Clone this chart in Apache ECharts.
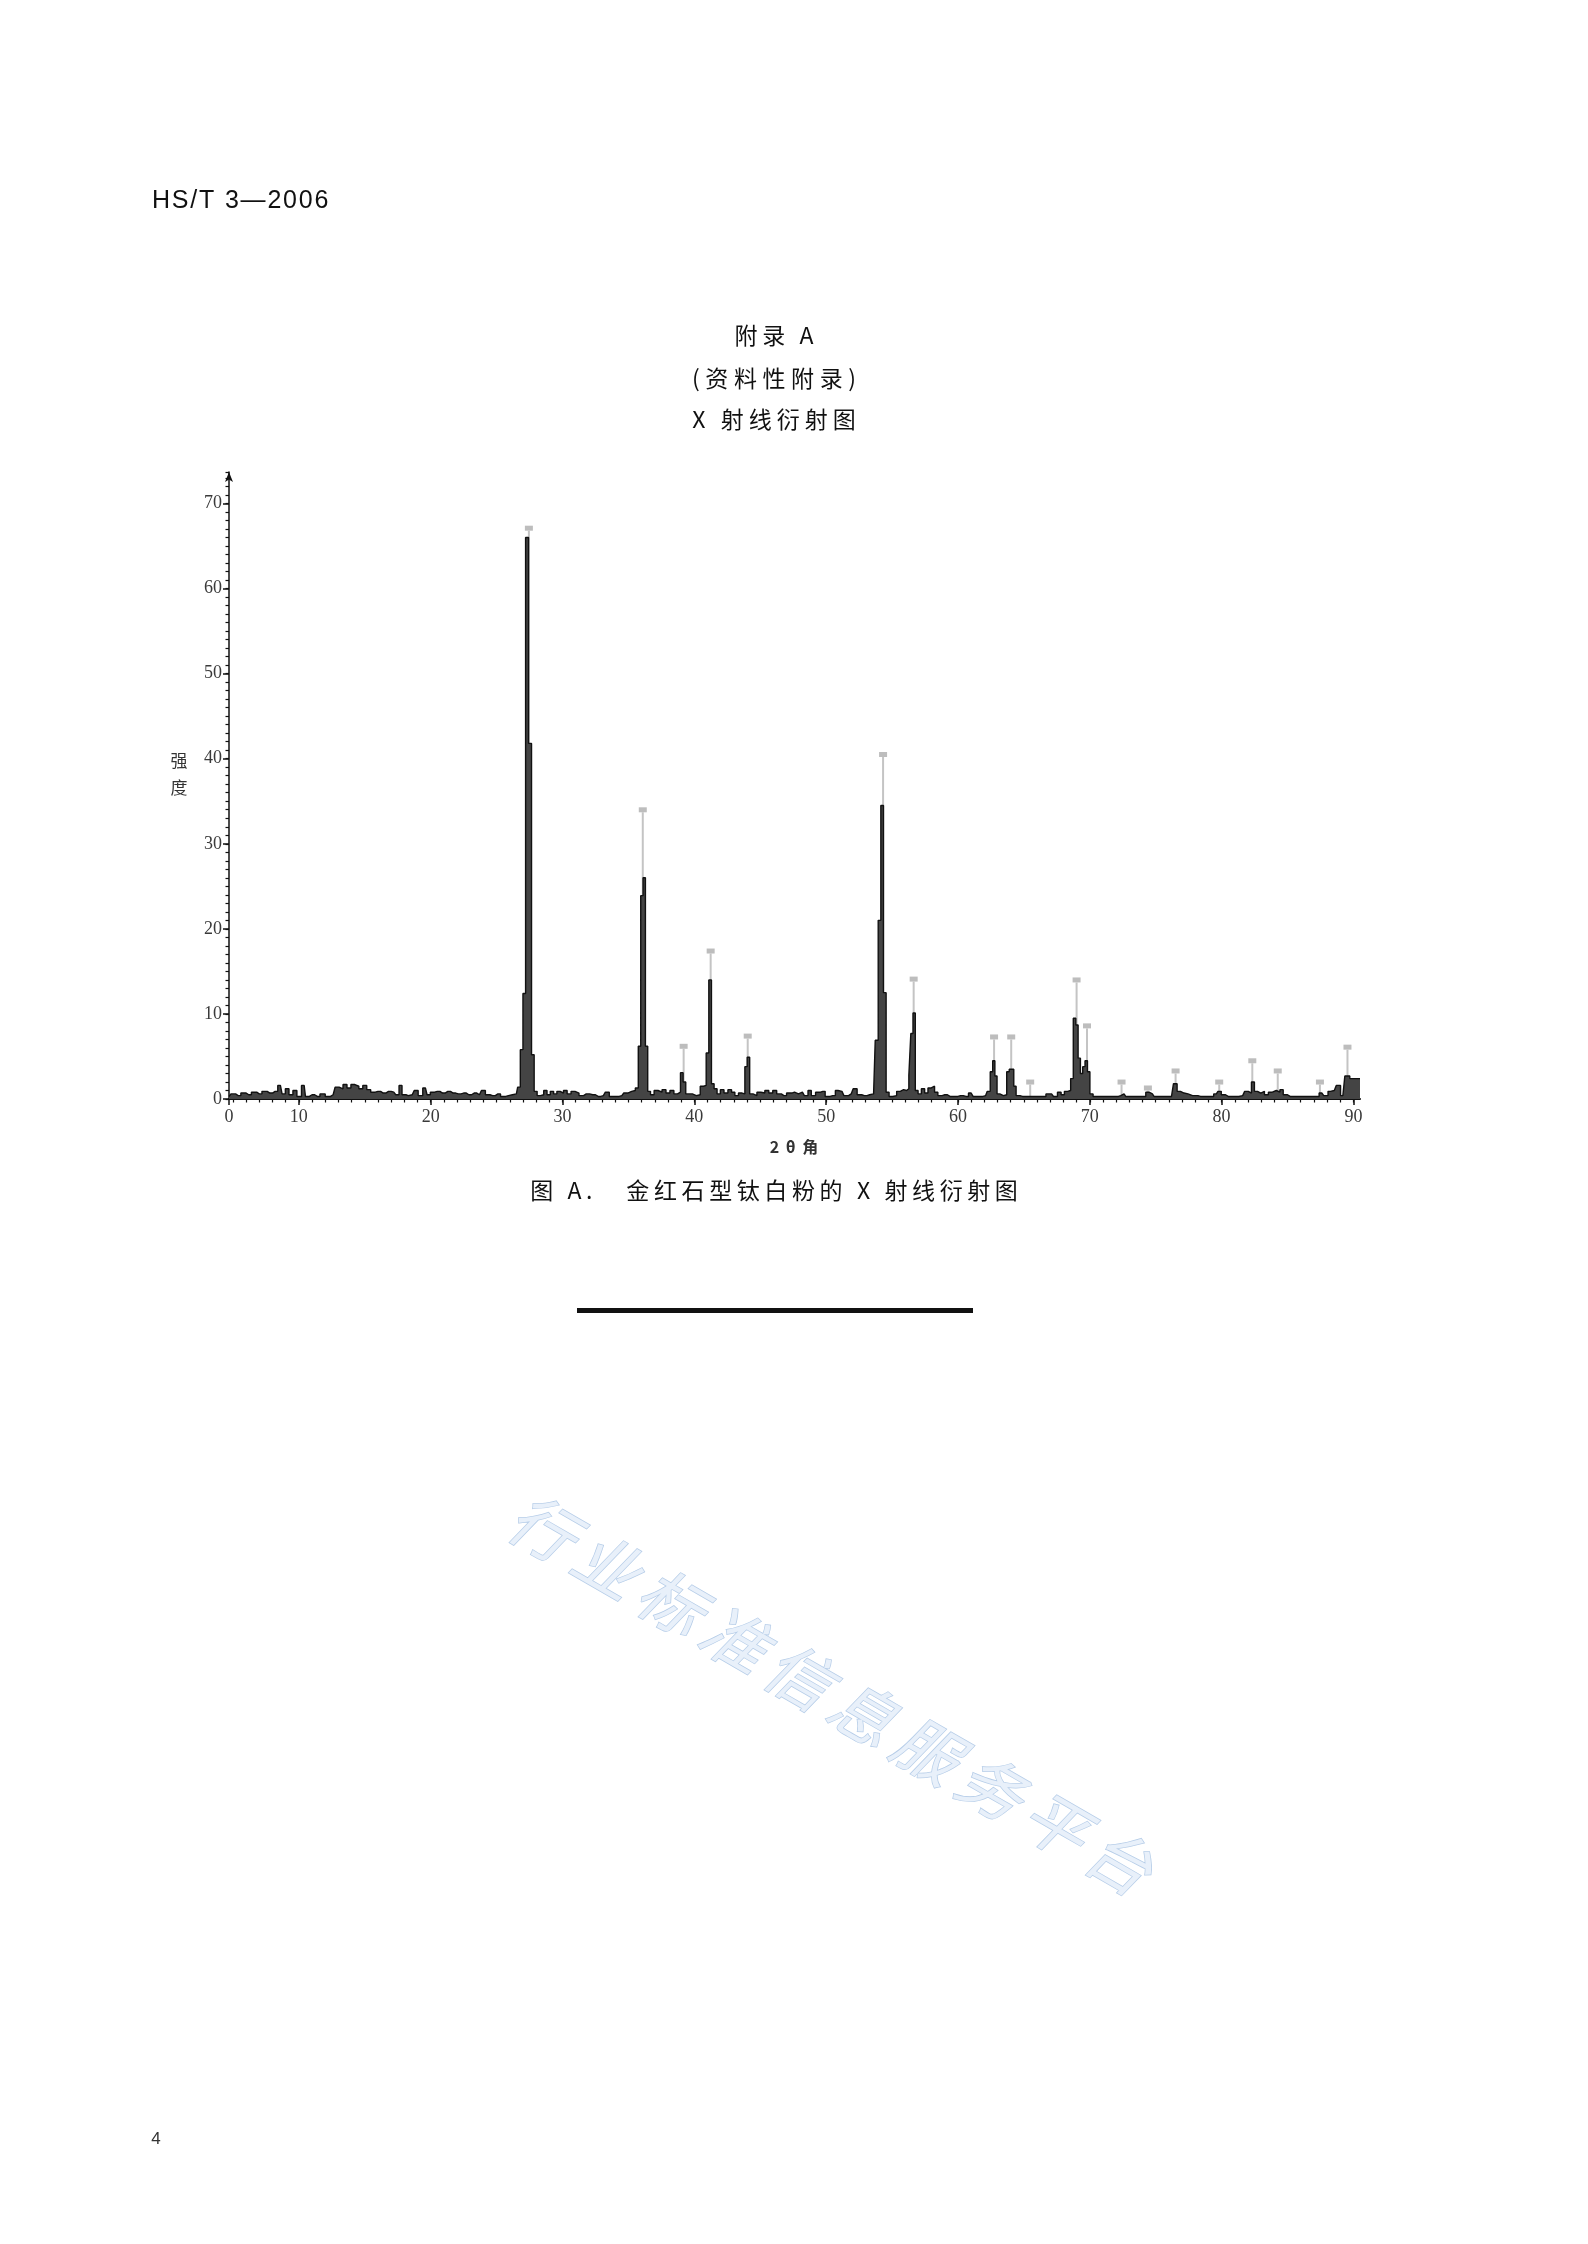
<!DOCTYPE html>
<html>
<head>
<meta charset="utf-8">
<script src="https://cdn.jsdelivr.net/npm/echarts/dist/echarts.min.js"></script>
<style>
  html, body { margin: 0; padding: 0; background: #ffffff; }
  #page { width: 1588px; height: 2244px; }
</style>
</head>
<body>
<div id="page"></div>
<script>
// ---------------- DATA ----------------
// measured diffraction pattern (2θ in degrees, intensity)
var twoTheta = [
  4.7, 5.0, 5.4, 5.8, 6.2, 6.6, 7.0, 7.4, 7.8, 8.2, 8.6, 8.85, 9.1, 9.4, 9.7, 10.0, 10.4, 10.6, 11.0, 11.4,
  11.8, 12.2, 12.6, 12.9, 13.2, 13.5, 13.8, 14.1, 14.4, 14.7, 15.0, 15.3, 15.6, 16.0, 16.4, 16.8, 17.2, 17.5, 17.7, 17.95,
  18.3, 18.6, 18.9, 19.2, 19.6, 19.85, 20.1, 20.5, 20.9, 21.3, 21.7, 22.1, 22.5, 22.9, 23.3, 23.7, 24.0, 24.3, 24.7, 25.1,
  25.5, 25.9, 26.2, 26.5, 26.7, 26.9, 27.1, 27.3, 27.55, 27.75, 27.95, 28.2, 28.45, 28.7, 28.95, 29.2, 29.45, 29.7, 29.95, 30.2,
  30.5, 30.8, 31.1, 31.4, 31.8, 32.3, 32.7, 33.1, 33.4, 33.7, 34.1, 34.5, 34.8, 35.1, 35.4, 35.65, 35.85, 36.02, 36.2, 36.38,
  36.55, 36.8, 37.1, 37.4, 37.7, 38.0, 38.3, 38.6, 38.85, 39.05, 39.25, 39.45, 39.7, 40.0, 40.3, 40.6, 40.8, 41.0, 41.2, 41.4,
  41.6, 41.85, 42.1, 42.4, 42.7, 42.95, 43.2, 43.5, 43.75, 43.92, 44.1, 44.3, 44.6, 44.9, 45.2, 45.5, 45.8, 46.1, 46.4, 46.8,
  47.2, 47.6, 47.9, 48.2, 48.5, 48.75, 49.0, 49.4, 49.75, 50.1, 50.5, 50.9, 51.2, 51.5, 51.9, 52.2, 52.5, 52.9, 53.3, 53.6,
  53.85, 54.05, 54.25, 54.45, 54.65, 54.9, 55.2, 55.5, 55.75, 56.0, 56.2, 56.35, 56.5, 56.68, 56.85, 57.1, 57.35, 57.6, 57.85, 58.1,
  58.35, 58.6, 59.0, 59.4, 59.8, 60.2, 60.6, 61.0, 61.3, 61.7, 62.1, 62.35, 62.55, 62.72, 62.88, 63.05, 63.3, 63.6, 63.8, 63.98,
  64.15, 64.32, 64.5, 64.9, 65.3, 65.7, 66.1, 66.5, 66.85, 67.1, 67.4, 67.7, 67.95, 68.2, 68.45, 68.65, 68.85, 69.03, 69.2, 69.38,
  69.55, 69.73, 69.92, 70.1, 70.4, 70.8, 71.2, 71.6, 72.0, 72.35, 72.6, 72.85, 73.2, 73.6, 74.0, 74.5, 74.75, 75.0, 75.4, 75.8,
  76.2, 76.5, 76.75, 77.0, 77.3, 77.6, 78.0, 78.4, 78.8, 79.2, 79.6, 79.85, 80.1, 80.5, 80.9, 81.3, 81.6, 81.9, 82.15, 82.38,
  82.6, 82.85, 83.1, 83.4, 83.7, 84.0, 84.3, 84.55, 84.8, 85.2, 85.6, 86.0, 86.4, 86.8, 87.2, 87.6, 87.9, 88.25, 88.55, 88.85,
  89.2, 89.5, 89.95, 90.5
];
var intensity = [
  0.3, 0.6, 0.4, 0.7, 0.5, 0.8, 0.6, 0.9, 0.7, 0.9, 1.6, 0.6, 1.2, 0.5, 1.0, 0.3, 1.6, 0.3, 0.5, 0.3,
  0.6, 0.3, 0.5, 1.4, 1.2, 1.7, 1.3, 1.7, 1.5, 1.2, 1.6, 1.1, 0.8, 0.9, 0.7, 0.9, 0.8, 0.5, 1.6, 0.5,
  0.4, 0.5, 1.0, 0.4, 1.3, 0.5, 0.8, 0.9, 0.7, 0.9, 0.7, 0.6, 0.7, 0.5, 0.7, 0.5, 1.0, 0.5, 0.4, 0.6,
  0.3, 0.4, 0.5, 0.6, 1.4, 5.8, 12.4, 66.0, 41.8, 5.2, 0.9, 0.4, 0.5, 1.0, 0.5, 0.9, 0.6, 0.9, 0.7, 1.0,
  0.6, 0.9, 0.7, 0.4, 0.6, 0.5, 0.3, 0.4, 0.8, 0.3, 0.3, 0.4, 0.7, 0.9, 1.0, 1.3, 6.2, 23.9, 26.0, 6.2,
  0.9, 0.5, 1.0, 0.8, 1.1, 0.7, 1.0, 0.6, 0.8, 3.1, 2.0, 0.6, 0.6, 0.4, 0.5, 1.5, 1.6, 5.4, 14.0, 1.8,
  1.2, 0.6, 1.1, 0.7, 1.1, 0.8, 0.4, 0.7, 0.6, 3.8, 4.9, 0.6, 0.4, 0.8, 0.7, 1.0, 0.7, 1.0, 0.6, 0.4,
  0.7, 0.8, 0.6, 0.8, 0.4, 1.0, 0.4, 0.8, 0.9, 0.3, 0.4, 1.0, 0.9, 0.4, 0.6, 1.2, 0.5, 0.4, 0.5, 0.6,
  6.9, 21.0, 34.5, 12.5, 0.8, 0.3, 0.4, 0.9, 1.1, 1.0, 1.2, 2.8, 7.7, 10.1, 1.0, 0.6, 1.2, 0.7, 1.3, 1.5,
  0.8, 0.4, 0.5, 0.3, 0.3, 0.4, 0.3, 0.7, 0.3, 0.3, 0.4, 0.9, 3.2, 4.5, 2.7, 0.6, 0.4, 0.5, 3.2, 3.5,
  3.5, 1.5, 0.4, 0.3, 0.3, 0.3, 0.3, 0.3, 0.6, 0.6, 0.3, 0.8, 0.5, 0.9, 1.0, 2.4, 9.5, 8.7, 4.8, 3.0,
  3.8, 4.5, 3.2, 0.6, 0.3, 0.3, 0.3, 0.3, 0.3, 0.4, 0.6, 0.3, 0.3, 0.3, 0.3, 0.8, 0.6, 0.3, 0.3, 0.3,
  0.3, 1.8, 0.9, 0.7, 0.6, 0.4, 0.4, 0.3, 0.3, 0.3, 0.6, 0.9, 0.5, 0.3, 0.3, 0.3, 0.4, 0.9, 0.7, 2.0,
  0.9, 0.7, 0.9, 0.5, 0.8, 1.0, 0.8, 1.1, 0.5, 0.3, 0.3, 0.3, 0.3, 0.3, 0.3, 0.7, 0.4, 0.9, 1.0, 1.6,
  0.4, 2.7, 2.4, 2.4
];
// reference (rutile) lines: positions and relative heights
var refAngle = [27.45, 36.09, 39.19, 41.24, 44.05, 54.32, 56.64, 62.74, 64.04, 65.48,
                69.0, 69.79, 72.41, 74.41, 76.51, 79.82, 82.33, 84.26, 87.46, 89.55];
var refIntensity = [66.8, 33.7, 5.9, 17.1, 7.1, 40.2, 13.8, 7.0, 7.0, 1.7,
                    13.7, 8.3, 1.7, 1.0, 3.0, 1.7, 4.2, 3.0, 1.7, 5.8];
// axis ticks / labels
var xLabelValues = [4.7, 10, 20, 30, 40, 50, 60, 70, 80, 90];
var xLabelTexts  = ['0', '10', '20', '30', '40', '50', '60', '70', '80', '90'];
var yLabelValues = [0, 10, 20, 30, 40, 50, 60, 70];
var xMin = 4.7, xMax = 90.5, yMin = 0, yMax = 73.7;

// ---------------- BUILD ----------------
var patternData = twoTheta.map(function (t, i) { return [t, intensity[i]]; });
var refData = refAngle.map(function (t, i) { return [t, refIntensity[i]]; });
var xMinorTicks = [];
for (var k = 5; k <= 90; k++) xMinorTicks.push(k);

var chart = echarts.init(document.getElementById('page'), null, { width: 1588, height: 2244, renderer: 'canvas' });

var CJK = "'Noto Sans CJK SC', 'Noto Sans', sans-serif";
var SANS = "'Liberation Sans', Arial, sans-serif";
var SERIF = "'Liberation Serif', 'DejaVu Serif', serif";

var measureCtx = document.createElement('canvas').getContext('2d');
// text laid out character by character with extra letter spacing
function spacedText(str, x, cy, size, family, weight, spacing, fill, anchor) {
  measureCtx.font = weight + ' ' + size + 'px ' + family;
  var chars = Array.from(str);
  var widths = chars.map(function (c) { return measureCtx.measureText(c).width; });
  var total = widths.reduce(function (a, b) { return a + b; }, 0) + spacing * (chars.length - 1);
  var cx = anchor === 'left' ? x : x - total / 2;
  var children = [];
  chars.forEach(function (c, i) {
    if (c !== ' ') {
      children.push({
        type: 'text', x: cx, y: cy,
        style: { text: c, fontSize: size, fontFamily: family, fontWeight: weight, fill: fill, align: 'left', verticalAlign: 'middle' }
      });
    }
    cx += widths[i] + spacing;
  });
  return { type: 'group', silent: true, children: children };
}

function wmChars() {
  var s = '行业标准信息服务平台';
  var out = [];
  var pitch = 74;
  for (var i = 0; i < s.length; i++) {
    out.push({
      type: 'text',
      x: (i - (s.length - 1) / 2) * pitch,
      y: 0,
      style: {
        text: s.charAt(i), fontSize: 64, fontFamily: CJK, fontStyle: 'italic',
        fill: '#e8f0fa', stroke: '#b6cde8', lineWidth: 1.5,
        align: 'center', verticalAlign: 'middle'
      }
    });
  }
  return out;
}

var option = {
  backgroundColor: '#ffffff',
  animation: false,
  grid: { left: 229, right: 228, top: 472, bottom: 1145, containLabel: false, outerBoundsMode: 'none' },
  xAxis: [
    {
      type: 'value', min: xMin, max: xMax, position: 'bottom',
      axisLine: { show: true, onZero: false, lineStyle: { color: '#111', width: 2 } },
      axisTick: { show: true, customValues: xLabelValues, length: 6, lineStyle: { color: '#111', width: 1.5 } },
      axisLabel: {
        show: true, customValues: xLabelValues, margin: 9,
        fontFamily: SERIF, fontSize: 18, color: '#3a3a3a',
        formatter: function (v) { var i = xLabelValues.indexOf(v); return i >= 0 ? xLabelTexts[i] : ''; }
      },
      splitLine: { show: false }
    },
    {
      type: 'value', min: xMin, max: xMax, position: 'bottom',
      axisLine: { show: false },
      axisTick: { show: true, customValues: xMinorTicks, length: 3.5, lineStyle: { color: '#111', width: 1.2 } },
      axisLabel: { show: false },
      splitLine: { show: false }
    }
  ],
  yAxis: [
    {
      type: 'value', min: yMin, max: yMax, position: 'left',
      axisLine: { show: true, onZero: false, symbol: ['none', 'arrow'], symbolSize: [6, 10], lineStyle: { color: '#111', width: 1.5 } },
      axisTick: { show: true, customValues: yLabelValues, length: 6, lineStyle: { color: '#111', width: 1.5 } },
      axisLabel: { show: true, customValues: yLabelValues, margin: 7, fontFamily: SERIF, fontSize: 18, color: '#3a3a3a' },
      splitLine: { show: false }
    },
    {
      type: 'value', min: yMin, max: yMax, position: 'left', interval: 1,
      axisLine: { show: false },
      axisTick: { show: true, length: 3.5, lineStyle: { color: '#111', width: 1.2 } },
      axisLabel: { show: false },
      splitLine: { show: false }
    }
  ],
  series: [
    {
      type: 'custom', name: 'reference', xAxisIndex: 0, yAxisIndex: 0, z: 2,
      data: refData,
      encode: { x: 0, y: 1 },
      renderItem: function (params, api) {
        var p0 = api.coord([api.value(0), 0]);
        var p1 = api.coord([api.value(0), api.value(1)]);
        return {
          type: 'group',
          children: [
            { type: 'line', shape: { x1: p0[0], y1: p0[1], x2: p1[0], y2: p1[1] }, style: { stroke: '#c4c4c4', lineWidth: 2 } },
            { type: 'rect', shape: { x: p1[0] - 4, y: p1[1] - 5, width: 8, height: 5 }, style: { fill: '#bdbdbd' } }
          ]
        };
      }
    },
    {
      type: 'line', name: 'pattern', xAxisIndex: 0, yAxisIndex: 0, z: 3,
      data: patternData, step: 'middle', symbol: 'none', showSymbol: false,
      lineStyle: { color: '#111', width: 1.4 },
      areaStyle: { color: '#444444', opacity: 1 }
    }
  ],
  graphic: [
    { type: 'group', x: 831, y: 1694, rotation: -Math.PI / 6, silent: true, z: -10, children: wmChars() },
    spacedText('HS/T 3—2006', 152, 201, 25, SANS, 'normal', 1.8, '#111', 'left'),
    spacedText('附录 A', 774, 335, 23, CJK, 'normal', 4.6, '#111'),
    spacedText('(资料性附录)', 774, 378, 23, CJK, 'normal', 5.6, '#111'),
    spacedText('X 射线衍射图', 774, 419, 23, CJK, 'normal', 5.0, '#111'),
    { type: 'text', x: 179, y: 774, silent: true, style: { text: '强\n度', fontFamily: CJK, fontSize: 17, lineHeight: 27, fill: '#333', align: 'center', verticalAlign: 'middle' } },
    spacedText('2 θ 角', 794, 1147, 16, CJK, 'bold', 1.5, '#333'),
    spacedText('图 A.   金红石型钛白粉的 X 射线衍射图', 774, 1190, 23, CJK, 'normal', 4.6, '#111'),
    { type: 'rect', shape: { x: 577, y: 1308, width: 396, height: 5 }, style: { fill: '#111' } },
    { type: 'text', x: 156, y: 2139, silent: true, style: { text: '4', fontFamily: SANS, fontSize: 17, fill: '#333', align: 'center', verticalAlign: 'middle' } }
  ]
};
chart.setOption(option);
</script>
</body>
</html>
